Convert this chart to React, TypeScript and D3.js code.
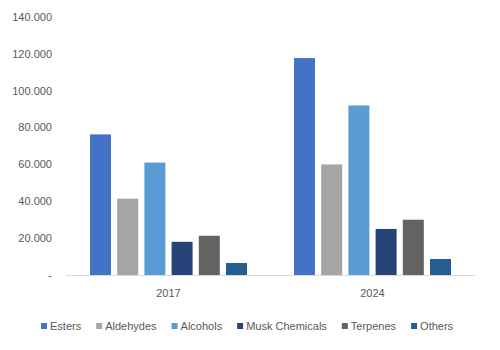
import React, { useEffect, useRef } from "react";
import * as d3 from "d3";

const categories = ["2017", "2024"];
const seriesNames = ["Esters", "Aldehydes", "Alcohols", "Musk Chemicals", "Terpenes", "Others"];
const seriesColors = ["#4472C4", "#A5A5A5", "#5B9BD5", "#264478", "#636363", "#255E91"];
const values2017 = [76.3, 41.4, 61.0, 18.0, 21.3, 6.5];
const values2024 = [117.7, 60.0, 92.0, 25.0, 30.0, 8.7];
const yTicks = [0, 20, 40, 60, 80, 100, 120, 140];

const W = 500;
const H = 350;
const FONT = "'Liberation Sans', Arial, sans-serif";
const TEXT = "#595959";

export default function App() {
  const ref = useRef<SVGSVGElement>(null);

  useEffect(() => {
    const svg = d3.select(ref.current);
    svg.selectAll("*").remove();

    const left = 66, right = 475, top = 17, base = 275;
    const y = d3.scaleLinear().domain([0, 140]).range([base, top]);
    const x0 = d3.scaleBand<string>().domain(categories).range([left, right])
      .paddingInner(47 / 204).paddingOuter(24 / 204);
    const x1 = d3.scaleBand<string>().domain(seriesNames).range([0, x0.bandwidth()])
      .paddingInner(0.228).paddingOuter(0);

    const data = [values2017, values2024];

    // y labels
    svg.append("g").selectAll("text").data(yTicks).join("text")
      .attr("x", 52).attr("y", (d) => y(d)).attr("dy", "0.35em")
      .attr("text-anchor", "end")
      .attr("font-family", FONT).attr("font-size", 11).attr("fill", TEXT)
      .text((d) => (d === 0 ? "-" : d3.format(".3f")(d)));

    // bars
    categories.forEach((c, ci) => {
      svg.append("g").attr("transform", `translate(${x0(c)},0)`)
        .selectAll("rect").data(seriesNames.map((s, si) => ({ s, v: data[ci][si], color: seriesColors[si] })))
        .join("rect")
        .attr("x", (d) => x1(d.s)!)
        .attr("y", (d) => y(d.v))
        .attr("width", x1.bandwidth())
        .attr("height", (d) => base - y(d.v))
        .attr("fill", (d) => d.color);
    });

    // axis line
    svg.append("line").attr("x1", left).attr("x2", right).attr("y1", base + 0.5).attr("y2", base + 0.5)
      .attr("stroke", "#D9D9D9").attr("stroke-width", 1);

    // category labels
    svg.append("g").selectAll("text").data(categories).join("text")
      .attr("x", (d) => x0(d)! + x0.bandwidth() / 2).attr("y", 293).attr("dy", "0.35em")
      .attr("text-anchor", "middle")
      .attr("font-family", FONT).attr("font-size", 11).attr("fill", TEXT)
      .text((d) => d);

    // legend
    const lg = svg.append("g");
    let cx = 41;
    seriesNames.forEach((s, i) => {
      lg.append("rect").attr("x", cx).attr("y", 323).attr("width", 6).attr("height", 6).attr("fill", seriesColors[i]);
      const t = lg.append("text").attr("x", cx + 9).attr("y", 326).attr("dy", "0.35em")
        .attr("font-family", FONT).attr("font-size", 11).attr("fill", TEXT).text(s);
      const w = (t.node() as SVGTextElement).getComputedTextLength();
      cx = cx + 9 + w + 15;
    });
  }, []);

  return <svg ref={ref} width={W} height={H} style={{ display: "block", position: "absolute", left: 0, top: 0, background: "#fff" }} />;
}
